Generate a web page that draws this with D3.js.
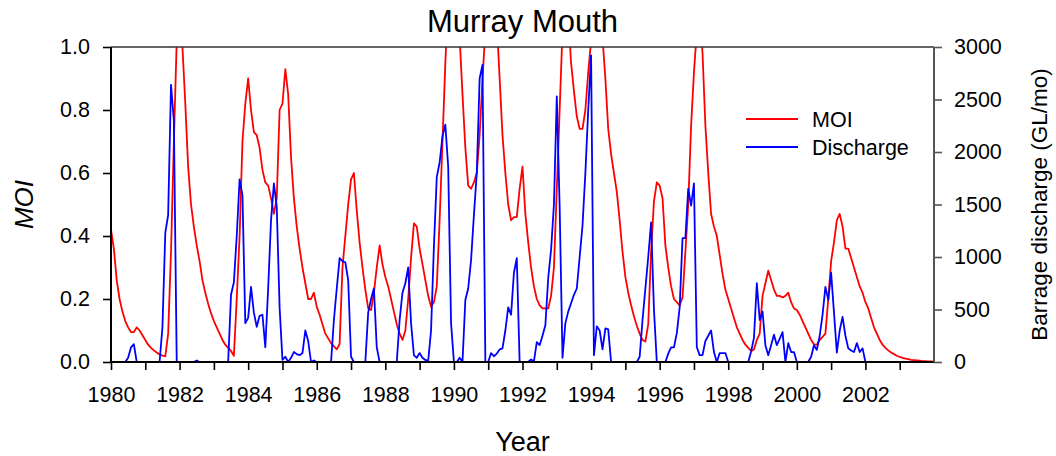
<!DOCTYPE html>
<html lang="en">
<head>
  <meta charset="UTF-8">
  <title>Murray Mouth</title>
  <style>
    body { margin: 0; background: #fff; }
    svg { display: block; font-family: "Liberation Sans", Arial, sans-serif; }
  </style>
</head>
<body>
  <script src="https://d3js.org/d3.v7.min.js"></script>
  <script>
    // monthly values, Jan 1980 .. Dec 2003 (+ Jan 2004)
    const startYear = 1980;
    const moi = [
      0.42, 0.36, 0.26, 0.2, 0.16, 0.13, 0.11, 0.095, 0.095, 0.11, 0.1, 0.085,       // 1980
      0.07, 0.055, 0.045, 0.037, 0.03, 0.024, 0.02, 0.018, 0.09, 0.35, 0.7, 1.02,     // 1981
      1.1, 1.0, 0.82, 0.62, 0.5, 0.43, 0.37, 0.32, 0.26, 0.22, 0.185, 0.155,         // 1982
      0.13, 0.11, 0.09, 0.07, 0.055, 0.045, 0.035, 0.02, 0.2, 0.4, 0.7, 0.82,        // 1983
      0.9, 0.8, 0.73, 0.72, 0.68, 0.61, 0.57, 0.56, 0.52, 0.47, 0.52, 0.8,           // 1984
      0.82, 0.93, 0.85, 0.65, 0.52, 0.43, 0.36, 0.3, 0.25, 0.2, 0.2, 0.22,           // 1985
      0.175, 0.15, 0.12, 0.09, 0.075, 0.06, 0.05, 0.04, 0.057, 0.3, 0.4, 0.5,        // 1986
      0.58, 0.6, 0.48, 0.38, 0.3, 0.23, 0.17, 0.165, 0.22, 0.3, 0.37, 0.31,          // 1987
      0.27, 0.24, 0.2, 0.16, 0.12, 0.09, 0.07, 0.1, 0.2, 0.33, 0.44, 0.43,           // 1988
      0.36, 0.31, 0.26, 0.21, 0.175, 0.19, 0.24, 0.45, 0.7, 0.95, 1.15, 1.2,         // 1989
      1.2, 1.15, 1.03, 0.85, 0.68, 0.56, 0.55, 0.57, 0.6, 0.72, 0.9, 1.05,           // 1990
      1.15, 1.2, 1.2, 1.08, 0.9, 0.72, 0.6, 0.5, 0.45, 0.46, 0.46, 0.55,             // 1991
      0.62, 0.47, 0.38, 0.3, 0.24, 0.2, 0.18, 0.17, 0.17, 0.17, 0.21, 0.3,           // 1992
      0.55, 0.8, 1.05, 1.15, 1.1, 0.95, 0.86, 0.78, 0.74, 0.74, 0.8, 0.92,           // 1993
      1.02, 1.15, 1.2, 1.1, 1.03, 0.9, 0.74, 0.66, 0.6, 0.54, 0.45, 0.35,            // 1994
      0.27, 0.22, 0.18, 0.145, 0.115, 0.09, 0.07, 0.065, 0.12, 0.35, 0.51, 0.57,     // 1995
      0.56, 0.52, 0.37, 0.3, 0.24, 0.2, 0.19, 0.18, 0.205, 0.35, 0.5, 0.75,          // 1996
      0.92, 1.05, 1.1, 0.98, 0.75, 0.6, 0.47, 0.43, 0.4, 0.34, 0.28, 0.23,           // 1997
      0.2, 0.17, 0.14, 0.11, 0.09, 0.07, 0.055, 0.045, 0.035, 0.04, 0.07, 0.09,      // 1998
      0.21, 0.25, 0.29, 0.26, 0.23, 0.21, 0.21, 0.205, 0.21, 0.22, 0.19, 0.17,       // 1999
      0.165, 0.15, 0.13, 0.11, 0.09, 0.07, 0.056, 0.055, 0.07, 0.08, 0.09, 0.2,      // 2000
      0.32, 0.38, 0.45, 0.47, 0.43, 0.36, 0.36, 0.33, 0.3, 0.27, 0.24, 0.22,         // 2001
      0.19, 0.17, 0.14, 0.11, 0.09, 0.07, 0.055, 0.045, 0.037, 0.03, 0.025, 0.02,    // 2002
      0.016, 0.013, 0.011, 0.009, 0.007, 0.006, 0.005, 0.004, 0.003, 0.003, 0.002, 0.002, // 2003
      0.001
    ];
    const discharge = [
      0, 0, 0, 0, 0, 0, 40, 140, 170, 0, 0, 0,                     // 1980
      0, 0, 0, 0, 0, 0, 330, 1230, 1400, 2640, 2300, 0,            // 1981
      0, 0, 0, 0, 0, 0, 15, 0, 0, 0, 0, 0,                         // 1982
      0, 0, 0, 0, 0, 0, 640, 760, 1200, 1740, 1590, 370,           // 1983
      420, 715, 470, 335, 440, 450, 140, 700, 1350, 1700, 1480, 520, // 1984
      20, 50, 0, 40, 95, 75, 65, 85, 300, 200, 0, 15,              // 1985
      0, 0, 0, 0, 0, 0, 400, 700, 990, 960, 950, 780,              // 1986
      50, 0, 0, 0, 0, 0, 470, 600, 700, 140, 0, 0,                 // 1987
      0, 0, 0, 0, 0, 400, 660, 750, 900, 370, 65, 40,              // 1988
      85, 40, 20, 10, 300, 1100, 1760, 1900, 2150, 2260, 1860, 370, // 1989
      0, 0, 40, 0, 590, 700, 970, 1400, 1800, 2700, 2830, 0,       // 1990
      0, 85, 55, 80, 120, 130, 300, 520, 450, 850, 990, 0,         // 1991
      0, 0, 0, 25, 5, 190, 160, 250, 350, 800, 1070, 1500,         // 1992
      2530, 1480, 40, 370, 480, 560, 640, 700, 1000, 1300, 1800, 2400, // 1993
      2920, 65, 340, 300, 120, 320, 310, 0, 0, 0, 0, 0,            // 1994
      0, 0, 0, 0, 0, 50, 400, 700, 1000, 1330, 500, 0,             // 1995
      0, 0, 0, 80, 140, 140, 275, 520, 1180, 1180, 1650, 1490,     // 1996
      1700, 140, 65, 65, 200, 250, 300, 95, 0, 85, 85, 85,         // 1997
      0, 0, 0, 0, 0, 0, 0, 0, 100, 230, 750, 400,                  // 1998
      480, 160, 65, 160, 260, 160, 220, 285, 0, 180, 95, 95,       // 1999
      0, 0, 0, 0, 0, 50, 160, 115, 250, 450, 715, 590,             // 2000
      850, 470, 90, 300, 430, 250, 130, 110, 95, 180, 95, 130,     // 2001
      0, 0, 0, 0, 0, 0, 0, 0, 0, 0, 0, 0,                          // 2002
      0, 0, 0, 0, 0, 0, 0, 0, 0, 0, 0, 0,                          // 2003
      0
    ];
    const yearTicks = d3.range(1980, 2004);
    const moiTicks = [0, 0.2, 0.4, 0.6, 0.8, 1.0];
    const dischargeTicks = [0, 500, 1000, 1500, 2000, 2500, 3000];

    const width = 1056, height = 456;
    const margin = { top: 47, right: 122, bottom: 94, left: 111 };
    const moiColor = '#ff0000';
    const disColor = '#0000ff';
    const tickFont = '21.5px';

    let svg = d3.select('body').append('svg')
      .attr('width', width)
      .attr('height', height);

    // scales
    let xScale = d3.scaleLinear().domain([1980, 2004]).range([margin.left, width - margin.right]);
    let y1Scale = d3.scaleLinear().domain([0, 1]).range([height - margin.bottom, margin.top]);
    let y2Scale = d3.scaleLinear().domain([0, 3000]).range([height - margin.bottom, margin.top]);
    const t = i => startYear + i / 12;

    svg.append('clipPath').attr('id', 'plot')
      .append('rect')
      .attr('x', margin.left).attr('y', margin.top)
      .attr('width', width - margin.left - margin.right)
      .attr('height', height - margin.top - margin.bottom);

    // lines
    svg.append('path').datum(moi)
      .attr('clip-path', 'url(#plot)')
      .attr('fill', 'none').attr('stroke', moiColor).attr('stroke-width', 1.8)
      .attr('stroke-linejoin', 'round')
      .attr('d', d3.line().x((d, i) => xScale(t(i))).y(d => y1Scale(d)));
    svg.append('path').datum(discharge)
      .attr('clip-path', 'url(#plot)')
      .attr('fill', 'none').attr('stroke', disColor).attr('stroke-width', 1.8)
      .attr('stroke-linejoin', 'round')
      .attr('d', d3.line().x((d, i) => xScale(t(i))).y(d => y2Scale(d)));

    // top frame line
    svg.append('line')
      .attr('x1', margin.left).attr('x2', width - margin.right)
      .attr('y1', margin.top).attr('y2', margin.top)
      .attr('stroke', '#333').attr('stroke-width', 1.6);

    // axes
    let xAxis = d3.axisBottom(xScale).tickValues(yearTicks).tickSize(8).tickPadding(17)
      .tickFormat(d => d % 2 === 0 ? d : '');
    let y1Axis = d3.axisLeft(y1Scale).tickValues(moiTicks).tickSize(8).tickPadding(13)
      .tickFormat(d3.format('.1f'));
    let y2Axis = d3.axisRight(y2Scale).tickValues(dischargeTicks).tickSize(8).tickPadding(12)
      .tickFormat(d3.format('d'));

    function styleAxis(g, color) {
      g.select('.domain').remove();
      g.selectAll('.tick line').attr('stroke', color).attr('stroke-width', 1.6);
      g.selectAll('.tick text').attr('fill', '#000').attr('font-size', tickFont)
        .attr('font-family', '"Liberation Sans", Arial, sans-serif');
    }

    svg.append('g').attr('transform', `translate(0,${height - margin.bottom})`)
      .call(xAxis).call(g => styleAxis(g, '#000'));
    svg.append('g').attr('transform', `translate(${margin.left},0)`)
      .call(y1Axis).call(g => styleAxis(g, '#000'));
    svg.append('g').attr('transform', `translate(${width - margin.right},0)`)
      .call(y2Axis).call(g => styleAxis(g, '#555'));

    // axis lines
    svg.append('line')
      .attr('x1', margin.left).attr('x2', width - margin.right)
      .attr('y1', height - margin.bottom).attr('y2', height - margin.bottom)
      .attr('stroke', '#000').attr('stroke-width', 2);
    svg.append('line')
      .attr('x1', margin.left).attr('x2', margin.left)
      .attr('y1', margin.top).attr('y2', height - margin.bottom)
      .attr('stroke', '#000').attr('stroke-width', 2);
    svg.append('line')
      .attr('x1', width - margin.right).attr('x2', width - margin.right)
      .attr('y1', margin.top).attr('y2', height - margin.bottom)
      .attr('stroke', '#555').attr('stroke-width', 2);

    // titles
    svg.append('text')
      .attr('x', (margin.left + width - margin.right) / 2).attr('y', 32)
      .attr('text-anchor', 'middle').attr('font-size', '31px')
      .text('Murray Mouth');
    svg.append('text')
      .attr('x', (margin.left + width - margin.right) / 2).attr('y', 451)
      .attr('text-anchor', 'middle').attr('font-size', '27px')
      .text('Year');
    svg.append('text')
      .attr('transform', `translate(33,${(margin.top + height - margin.bottom) / 2}) rotate(-90)`)
      .attr('text-anchor', 'middle').attr('font-size', '26px').attr('font-style', 'italic')
      .text('MOI');
    svg.append('text')
      .attr('transform', `translate(1047,${(margin.top + height - margin.bottom) / 2}) rotate(-90)`)
      .attr('text-anchor', 'middle').attr('font-size', '22.5px')
      .text('Barrage discharge (GL/mo)');

    // legend
    let legend = svg.append('g').attr('transform', 'translate(746,119)');
    [['MOI', moiColor], ['Discharge', disColor]].forEach(([name, color], i) => {
      let item = legend.append('g').attr('transform', `translate(0,${i * 28})`);
      item.append('line')
        .attr('x1', 0).attr('x2', 52).attr('y1', 0).attr('y2', 0)
        .attr('stroke', color).attr('stroke-width', 1.8);
      item.append('text')
        .attr('x', 66).attr('y', 0).attr('dy', '0.36em')
        .attr('font-size', '21.5px')
        .text(name);
    });
  </script>
</body>
</html>
